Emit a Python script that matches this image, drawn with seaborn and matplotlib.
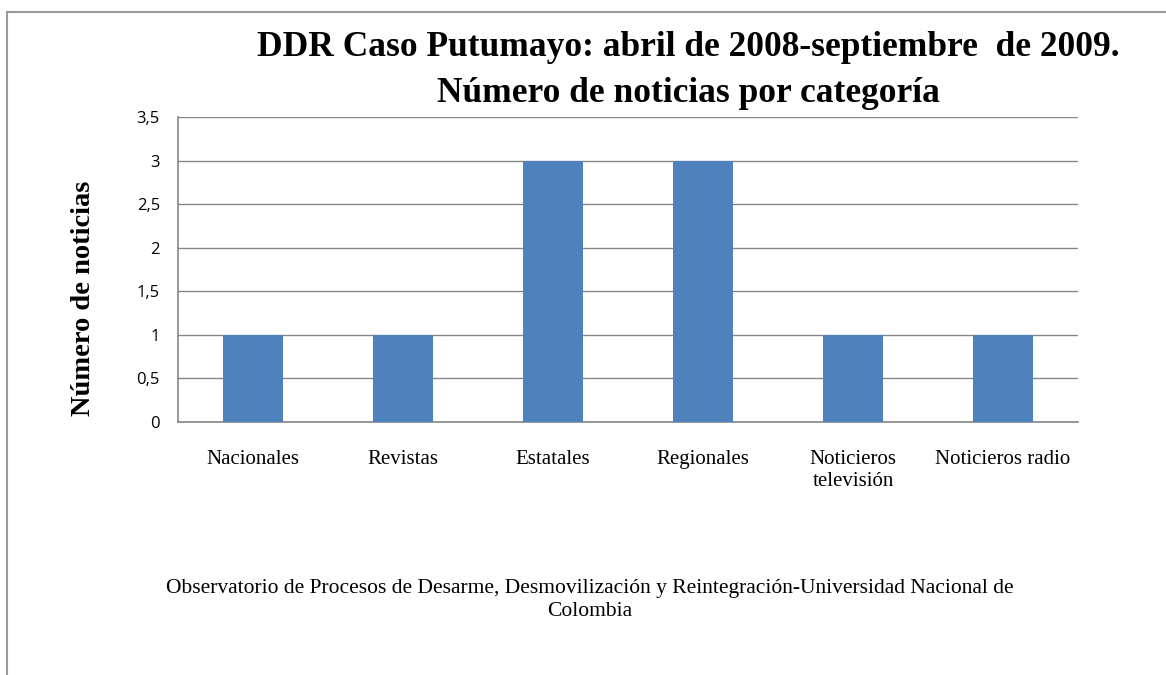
import matplotlib
matplotlib.use("Agg")
import matplotlib.pyplot as plt
import seaborn as sns
import pandas as pd
from matplotlib.lines import Line2D

categories = ["Nacionales", "Revistas", "Estatales", "Regionales",
              "Noticieros\ntelevisión", "Noticieros radio"]
values = [1, 1, 3, 3, 1, 1]
yticks = [0, 0.5, 1, 1.5, 2, 2.5, 3, 3.5]
ytick_labels = ["0", "0,5", "1", "1,5", "2", "2,5", "3", "3,5"]

sns.set_style("white")
plt.rcParams['font.family'] = ['Liberation Serif', 'DejaVu Serif']
plt.rcParams['text.color'] = 'black'
plt.rcParams['xtick.color'] = 'black'
plt.rcParams['ytick.color'] = 'black'

df = pd.DataFrame({"cat": categories, "val": values})

fig = plt.figure(figsize=(11.66, 6.75), dpi=100)
ax = fig.add_axes([178/1166, 1-422/675, 900/1166, 305/675])

sns.barplot(data=df, x="cat", y="val", color="#4F81BD", width=0.4,
            saturation=1, ax=ax, zorder=3, edgecolor="none", linewidth=0)

ax.set_ylim(0, 3.5)
ax.set_yticks(yticks)
ax.set_yticklabels(ytick_labels, family=["Open Sans", "DejaVu Sans"], fontsize=12)
ax.tick_params(axis="y", length=0, pad=13, colors="black")
ax.tick_params(axis="x", length=0, pad=20, labelsize=15, colors="black")
for lab in ax.get_xticklabels():
    lab.set_family(["Liberation Serif"])
    lab.set_linespacing(1.25)
ax.grid(axis="y", color="#868686", linewidth=1, zorder=0)
ax.set_axisbelow(True)
for s in ["top", "right"]:
    ax.spines[s].set_visible(False)
for s in ["left", "bottom"]:
    ax.spines[s].set_color("#868686")
    ax.spines[s].set_linewidth(1.2)
ax.set_xlabel("")
ax.set_ylabel("")

fig.text(83/1166, 1-298/675, "Número de noticias", rotation=90, ha="center",
         va="center", fontsize=20.5, fontweight="bold")
fig.text(688/1166, 1-48/675, "DDR Caso Putumayo: abril de 2008-septiembre  de 2009.",
         ha="center", va="center", fontsize=25.5, fontweight="bold")
fig.text(688/1166, 1-93/675, "Número de noticias por categoría",
         ha="center", va="center", fontsize=25.5, fontweight="bold")
fig.text(590/1166, 1-600/675,
         "Observatorio de Procesos de Desarme, Desmovilización y Reintegración-Universidad Nacional de\nColombia",
         ha="center", va="center", fontsize=15.5, linespacing=1.3)

fig.add_artist(Line2D([7/1166, 7/1166], [0, 1-12/675], transform=fig.transFigure,
                      color="#9a9a9a", linewidth=1.5))
fig.add_artist(Line2D([7/1166, 1], [1-12/675, 1-12/675], transform=fig.transFigure,
                      color="#9a9a9a", linewidth=1.5))

fig.savefig("out.png", dpi=100)
